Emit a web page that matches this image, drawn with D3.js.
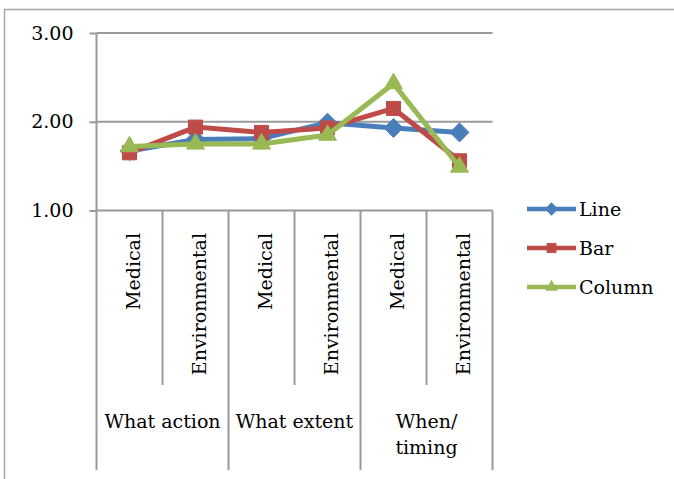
<!DOCTYPE html>
<html>
<head>
<meta charset="utf-8">
<script src="https://cdn.jsdelivr.net/npm/d3@7/dist/d3.min.js"></script>
<style>
  html, body { margin: 0; padding: 0; background: #fff; }
  svg { display: block; }
  text { font-family: "DejaVu Serif", "Liberation Serif", serif; fill: #000; }
</style>
</head>
<body>
<svg id="chart" width="674" height="479"></svg>
<script>
// Categories: two sub-categories inside each question group
const groups = ["What action", "What extent", "When/\ntiming"];
const subcategories = ["Medical", "Environmental"];
const categories = ["What action|Medical", "What action|Environmental",
                    "What extent|Medical", "What extent|Environmental",
                    "When/timing|Medical", "When/timing|Environmental"];

// Mean scores per series
const lineValues   = [1.67, 1.80, 1.81, 1.99, 1.93, 1.88];
const barValues    = [1.65, 1.94, 1.88, 1.93, 2.15, 1.56];
const columnValues = [1.72, 1.75, 1.75, 1.85, 2.43, 1.49];

const seriesNames = ["Line", "Bar", "Column"];
const yTicks = [1, 2, 3];

const series = [
  { name: seriesNames[0], values: lineValues,   color: "#4a7ebb", marker: d3.symbolDiamond2 },
  { name: seriesNames[1], values: barValues,    color: "#be4b48", marker: d3.symbolSquare2 },
  { name: seriesNames[2], values: columnValues, color: "#98b954", marker: d3.symbolTriangle2 }
];

const svg = d3.select("#chart");
const axisColor = "#9a9a9a";

// Chart frame (continues past the right and bottom edges)
svg.append("rect")
  .attr("x", 4.5).attr("y", 9.5)
  .attr("width", 700).attr("height", 500)
  .attr("fill", "none").attr("stroke", "#a8a8a8").attr("stroke-width", 1.5);

const plot = { left: 96.5, right: 492.5, top: 33, bottom: 210.5 };

const x = d3.scaleBand().domain(categories).range([plot.left, plot.right]);
const y = d3.scaleLinear().domain([1, 3]).range([plot.bottom, plot.top]);

// Horizontal gridlines
svg.append("g").selectAll("line").data(yTicks).join("line")
  .attr("x1", plot.left).attr("x2", plot.right)
  .attr("y1", d => y(d)).attr("y2", d => y(d))
  .attr("stroke", axisColor).attr("stroke-width", 2);

// Value axis
const yAxis = svg.append("g")
  .attr("transform", `translate(${plot.left},0)`)
  .call(d3.axisLeft(y).tickValues(yTicks).tickFormat(d3.format(".2f"))
        .tickSize(7).tickPadding(16));
yAxis.select(".domain").remove();
yAxis.selectAll(".tick line").attr("stroke", axisColor).attr("stroke-width", 2);
yAxis.selectAll(".tick text").attr("font-size", 19).attr("fill", "#000")
  .attr("font-family", "DejaVu Serif, serif");

// Vertical value axis line, running down through the category labels
svg.append("line")
  .attr("x1", plot.left).attr("x2", plot.left)
  .attr("y1", plot.top).attr("y2", 470)
  .attr("stroke", axisColor).attr("stroke-width", 2);

// Category axis dividers: short between sub-categories, long between groups
const bounds = d3.range(categories.length + 1).map(i => plot.left + i * x.bandwidth());
svg.append("g").selectAll("line").data(bounds.slice(1)).join("line")
  .attr("x1", d => d).attr("x2", d => d)
  .attr("y1", plot.bottom)
  .attr("y2", (d, i) => ((i + 1) % 2 === 0) ? 470 : 385)
  .attr("stroke", axisColor).attr("stroke-width", 2);

// Rotated sub-category labels
svg.append("g").selectAll("text").data(categories).join("text")
  .attr("transform", d => `translate(${x(d) + x.bandwidth() / 2 + 3},233) rotate(-90)`)
  .attr("text-anchor", "end")
  .attr("dominant-baseline", "central")
  .attr("font-size", 19)
  .text(d => d.split("|")[1]);

// Group labels
const groupWidth = x.bandwidth() * subcategories.length;
const gl = svg.append("g").selectAll("text").data(groups).join("text")
  .attr("text-anchor", "middle")
  .attr("font-size", 19)
  .attr("x", (d, i) => plot.left + groupWidth * (i + 0.5))
  .attr("y", 428);
gl.selectAll("tspan").data(d => d.split("\n")).join("tspan")
  .attr("x", function () { return d3.select(this.parentNode).attr("x"); })
  .attr("dy", (d, i) => i === 0 ? 0 : 26)
  .text(d => d);

// Series lines and markers
const line = d3.line().x((d, i) => x(categories[i]) + x.bandwidth() / 2).y(d => y(d));
const markerSize = { "Line": 230, "Bar": 250, "Column": 230 };

series.forEach(s => {
  const g = svg.append("g");
  g.append("path").datum(s.values)
    .attr("d", line)
    .attr("fill", "none").attr("stroke", s.color)
    .attr("stroke-width", 5).attr("stroke-linejoin", "round");
  g.selectAll("path.m").data(s.values).join("path").attr("class", "m")
    .attr("transform", (d, i) => `translate(${x(categories[i]) + x.bandwidth() / 2},${y(d)})`)
    .attr("d", d3.symbol().type(s.marker).size(markerSize[s.name]))
    .attr("fill", s.color).attr("stroke", s.color).attr("stroke-width", 1);
});

// Legend
const legend = svg.append("g").selectAll("g").data(series).join("g")
  .attr("transform", (d, i) => `translate(527,${209 + i * 39})`);
legend.append("line")
  .attr("x1", 0).attr("x2", 49).attr("y1", 0).attr("y2", 0)
  .attr("stroke", d => d.color).attr("stroke-width", 4.5);
legend.append("path")
  .attr("transform", "translate(24.5,0)")
  .attr("d", d => d3.symbol().type(d.marker).size(markerSize[d.name] * 0.5)())
  .attr("fill", d => d.color);
legend.append("text")
  .attr("x", 52).attr("y", 0)
  .attr("dominant-baseline", "central")
  .attr("font-size", 19)
  .text(d => d.name);
</script>
</body>
</html>
